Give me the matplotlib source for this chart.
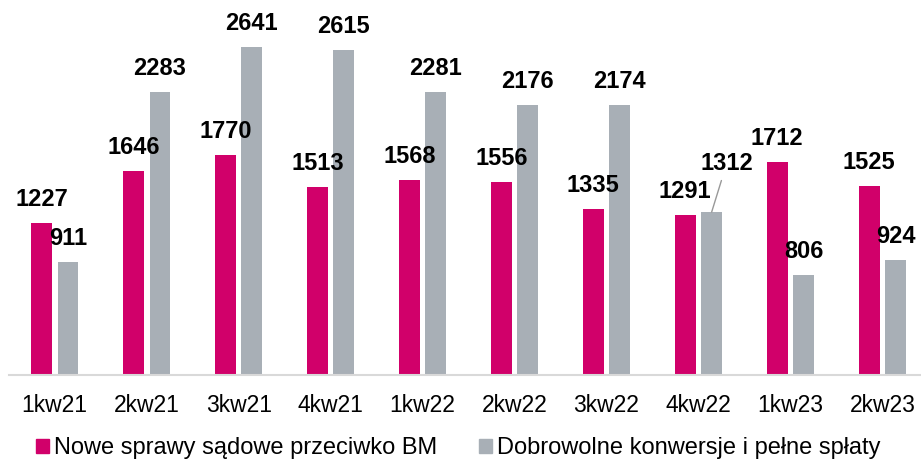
import matplotlib.pyplot as plt
import numpy as np
from matplotlib.patches import Patch

# quarterly data
quarters = ["1kw21", "2kw21", "3kw21", "4kw21", "1kw22", "2kw22", "3kw22", "4kw22", "1kw23", "2kw23"]
lawsuits = [1227, 1646, 1770, 1513, 1568, 1556, 1335, 1291, 1712, 1525]
conversions = [911, 2283, 2641, 2615, 2281, 2176, 2174, 1312, 806, 924]

pink = "#D1006A"
grey = "#A8AFB6"

plt.rcParams["font.family"] = ["Liberation Sans", "DejaVu Sans"]

fig = plt.figure(figsize=(9.21, 4.61), dpi=100)
ax = fig.add_axes([0.0, 86 / 461, 1.0, 372.5 / 461])

x = np.arange(len(quarters))
w = 0.225
off = 0.1435
ax.bar(x - off, lawsuits, width=w, color=pink, zorder=2)
ax.bar(x + off, conversions, width=w, color=grey, zorder=2)

# value labels
for xi, v in zip(x - off, lawsuits):
    ax.annotate(str(v), (xi, v), xytext=(0, 12), textcoords="offset pixels",
                ha="center", va="bottom", fontsize=17, fontweight="bold")
for i, (xi, v) in enumerate(zip(x + off, conversions)):
    if quarters[i] == "4kw22":
        # label moved up with a leader line
        ax.annotate(str(v), (xi, v), xytext=(15, 37), textcoords="offset pixels",
                    ha="center", va="bottom", fontsize=17, fontweight="bold",
                    arrowprops=dict(arrowstyle="-", color="#999999", lw=1,
                                    shrinkA=2, shrinkB=0))
    else:
        ax.annotate(str(v), (xi, v), xytext=(0, 12), textcoords="offset pixels",
                    ha="center", va="bottom", fontsize=17, fontweight="bold")

ax.set_xlim(-0.595, 9.42)
ax.set_ylim(0, 3000)
ax.set_xticks(x)
ax.set_xticklabels(quarters, fontsize=16.5)
ax.tick_params(axis="x", length=0, pad=14)
ax.set_yticks([])
for s in ["top", "right", "left"]:
    ax.spines[s].set_visible(False)
ax.spines["bottom"].set_color("#D9D9D9")
ax.spines["bottom"].set_linewidth(1.5)
ax.spines["bottom"].set_bounds(-0.497, 9.42)

handles = [Patch(color=pink, label="Nowe sprawy sądowe przeciwko BM"),
           Patch(color=grey, label="Dobrowolne konwersje i pełne spłaty")]
fig.legend(handles=handles, loc="center", bbox_to_anchor=(458 / 921, 1 - 448 / 461),
           ncol=2, frameon=False, fontsize=17, handlelength=0.55, handleheight=0.55,
           handletextpad=0.21, columnspacing=1.78, borderpad=0)

fig.savefig("out.png", dpi=100)
